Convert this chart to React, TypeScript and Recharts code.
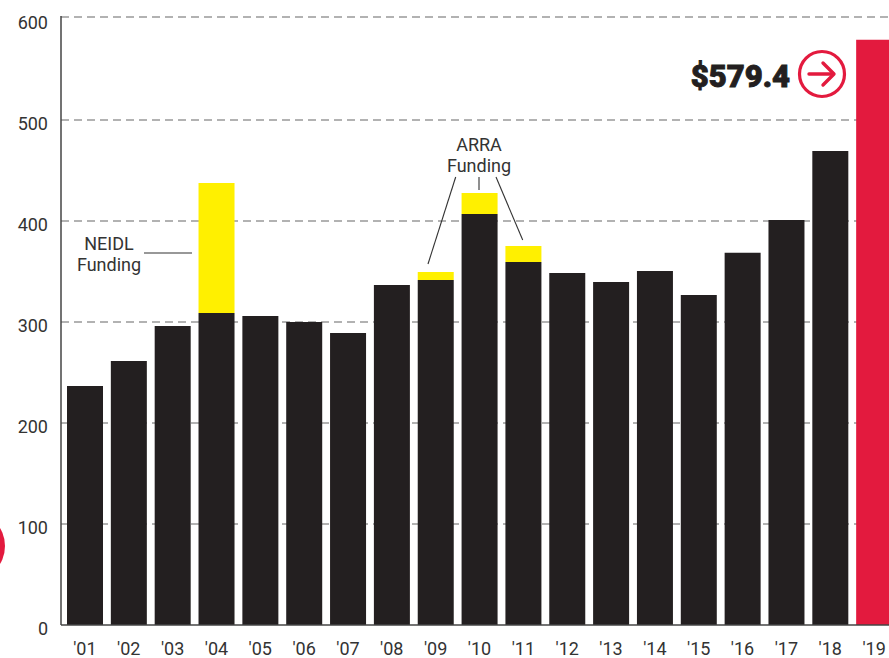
import React from "react";
import { BarChart, Bar, XAxis, YAxis, CartesianGrid } from "recharts";

const years = ["'01","'02","'03","'04","'05","'06","'07","'08","'09","'10","'11","'12","'13","'14","'15","'16","'17","'18","'19"];
const coreFunding = [236.6,261.4,296,309,306,300,289,336.6,341.6,407,359.4,348.5,339.6,350.5,326.7,368.7,401,469.3,0];
const specialFunding = [0,0,0,128.6,0,0,0,0,7.9,20.7,15.8,0,0,0,0,0,0,0,0];
const currentFunding = [0,0,0,0,0,0,0,0,0,0,0,0,0,0,0,0,0,0,579.4];
const yTicks = [0,100,200,300,400,500,600];
const gridValues = [100,200,300,400,500,602];

const data = years.map((year, i) => ({
  year,
  core: coreFunding[i],
  special: specialFunding[i],
  current: currentFunding[i],
}));

const FONT = "Roboto, sans-serif";
const INK = "#231F20";
const RED = "#E31A3E";
const YELLOW = "#FFF000";

const YTick = ({ x, y, payload }: any) => (
  <text x={x} y={y + 4} dy={6} textAnchor="end" fontFamily={FONT} fontSize={18} fill="#333">
    {payload.value}
  </text>
);
const XTick = ({ x, y, payload }: any) => (
  <text x={x} y={y} dy={22} textAnchor="middle" fontFamily={FONT} fontSize={18} fill="#333">
    {payload.value}
  </text>
);

export default function App() {
  return (
    <div style={{ position: "absolute", left: 0, top: 0, width: 889, height: 658, overflow: "hidden", background: "#fff" }}>
      <BarChart
        width={896}
        height={658}
        data={data}
        margin={{ top: 16, right: 0, bottom: 0, left: 0 }}
        barSize={36}
      >
        <CartesianGrid vertical={false} horizontalValues={gridValues} stroke="#666" strokeWidth={1.1} strokeDasharray="8 5" />
        <XAxis
          dataKey="year"
          height={33}
          padding={{ left: 2, right: 0 }}
          interval={0}
          tickLine={false}
          axisLine={{ stroke: "#444", strokeWidth: 1.5 }}
          tick={<XTick />}
        />
        <YAxis
          width={61}
          domain={[0, 603]}
          ticks={yTicks}
          interval={0}
          tickLine={false}
          tickMargin={5}
          tickSize={8}
          axisLine={{ stroke: "#444", strokeWidth: 1.5 }}
          tick={<YTick />}
        />
        <Bar dataKey="core" stackId="a" fill={INK} isAnimationActive={false} />
        <Bar dataKey="special" stackId="a" fill={YELLOW} isAnimationActive={false} />
        <Bar dataKey="current" stackId="a" fill={RED} isAnimationActive={false} />
      </BarChart>
      <svg width={889} height={658} style={{ position: "absolute", left: 0, top: 0, pointerEvents: "none" }}>
        <circle cx={-30} cy={546} r={35} fill={RED} />
        <g fontFamily={FONT} fontSize={18} fill="#333" textAnchor="middle">
          <text x={109} y={250}>NEIDL</text>
          <text x={109} y={271}>Funding</text>
          <text x={479} y={151}>ARRA</text>
          <text x={479} y={172}>Funding</text>
        </g>
        <g stroke="#333" strokeWidth={1.1} fill="none">
          <line x1={144} y1={253} x2={192} y2={253} />
          <line x1={455.7} y1={177} x2={428} y2={264} />
          <line x1={479} y1={177} x2={479} y2={190} />
          <line x1={496} y1={177} x2={522.7} y2={240} />
        </g>
        <text x={790} y={87} textAnchor="end" fontFamily={FONT} fontWeight={900} fontSize={31} fill={INK} stroke={INK} strokeWidth={0.9}>$579.4</text>
        <circle cx={822} cy={74} r={22.5} fill="none" stroke={RED} strokeWidth={3.2} />
        <g stroke={RED} strokeWidth={3.4} strokeLinecap="round" strokeLinejoin="round" fill="none">
          <line x1={809} y1={74} x2={833} y2={74} />
          <polyline points="823,63 834,74 823,85" />
        </g>
      </svg>
    </div>
  );
}
